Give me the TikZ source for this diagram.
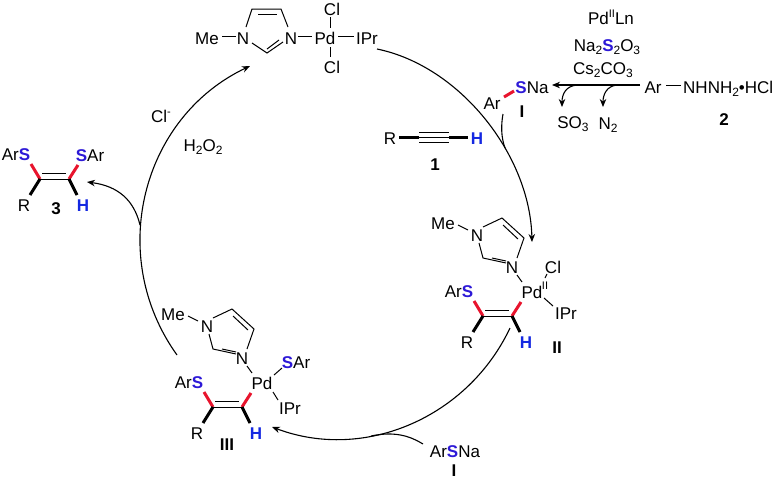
\documentclass[tikz,border=0pt]{standalone}
\usepackage{fontspec}
\setmainfont{Liberation Sans}
\usetikzlibrary{arrows.meta}
\definecolor{sblue}{RGB}{45,25,215}
\definecolor{hblue}{RGB}{20,40,225}
\definecolor{bred}{RGB}{232,20,45}
\newcommand{\Sb}{{\bfseries\color{sblue}S}}
\newcommand{\Hb}{{\bfseries\color{hblue}H}}
\newcommand{\sbs}[1]{\raisebox{-3.5pt}{\fontsize{12}{12}\selectfont #1}}
\newcommand{\sps}[1]{\raisebox{6.5pt}{\fontsize{11}{11}\selectfont #1}}
\tikzset{
  atom/.style={inner sep=0pt,text height=12pt,text depth=0pt,font=\fontsize{17}{18}\selectfont},
  num/.style={atom,font=\fontsize{17}{18}\selectfont\bfseries},
  bond/.style={line width=1pt},
  dbl/.style={line width=1pt},
  wedgeb/.style={line width=3pt},
  redb/.style={line width=3pt,draw=bred},
  flow/.style={line width=1.1pt,-{Stealth[length=8pt,width=6.5pt]}},
  plain/.style={line width=1.1pt}
}
% vinyl fragment with its ArS, R and H substituents, numbers as in III
\newcommand{\vinyl}[1]{
  \coordinate (#1c1) at (213,407);
  \coordinate (#1c2) at (242,407);
  \coordinate (#1i1) at (215,401);
  \coordinate (#1i2) at (239,401);
  \coordinate (#1s) at (204,392);
  \coordinate (#1p) at (251,393);
  \coordinate (#1r) at (203,423);
  \coordinate (#1h) at (250,423);
  \node[atom] (#1ArS) at (189,382) {Ar\Sb};
  \node[atom] (#1R) at (197,433) {R};
  \node[atom] (#1H) at (256,433) {\Hb};
  \draw[dbl] (#1c1) -- (#1c2) (#1i1) -- (#1i2);
  \draw[redb] (#1s) -- (#1c1);
  \draw[redb] (#1p) -- (#1c2);
  \draw[wedgeb] (#1c1) -- (#1r);
  \draw[wedgeb] (#1c2) -- (#1h);
}
% methylimidazole bound to Pd, numbers as in III
\newcommand{\imid}[1]{
  \node[atom] (#1Me) at (173,314) {Me};
  \node[atom] (#1Na) at (207,326) {N};
  \node[atom] (#1Nb) at (242,358) {N};
  \node[atom] (#1Pd) at (262,383) {Pd};
  \coordinate (#1a) at (232,309);
  \coordinate (#1b) at (254,329);
  \coordinate (#1c) at (213,349);
  \draw[bond] (188,316) -- (198,321);
  \draw[bond] (213,318) -- (#1a) -- (#1b) -- (247,349);
  \draw[bond] (233,316) -- (248,330);
  \draw[bond] (209,334) -- (#1c) -- (236,354);
  \draw[bond] (222,349) -- (236,352);
  \draw[bond] (247,366) -- (252,373);
}
\begin{document}
\begin{tikzpicture}[x=1pt,y=-1pt]
\useasboundingbox (0,0) rectangle (777,480);
% top complex
\node[atom] (tMe) at (207,38) {Me};
\node[atom] (tNa) at (243,38) {N};
\node[atom] (tNb) at (291,38) {N};
\node[atom] (tPd) at (325,38) {Pd};
\node[atom] (tIPr) at (367,38) {IPr};
\node[atom] (tClu) at (332,9) {Cl};
\node[atom] (tCld) at (332,67) {Cl};
\coordinate (ta) at (252,9);
\coordinate (tb) at (281,9);
\coordinate (tc) at (267,53);
\draw[bond] (222,36) -- (236,36);
\draw[bond] (246,27) -- (ta) -- (tb) -- (288,27);
\draw[bond] (258,14) -- (277,14);
\draw[bond] (252,43) -- (tc) -- (283,42);
\draw[bond] (267,49) -- (279,40);
\draw[bond] (298,36) -- (312,36);
\draw[bond] (338,36) -- (354,36);
\draw[bond] (330,17) -- (330,28);
\draw[bond] (330,47) -- (330,57);
% reagents
\node[atom] (pdl) at (611,18) {Pd\sps{II}Ln};
\node[atom] (na) at (607,45) {Na\sbs{2}\Sb\sbs{2}O\sbs{3}};
\node[atom] (cs) at (603,68) {Cs\sbs{2}CO\sbs{3}};
\node[atom] (ar2) at (653,87) {Ar};
\node[atom,anchor=west] (hyd) at (683,87) {NHNH\sbs{2}•HCl};
\node[num] (n2) at (724,119) {2};
\node[atom] (so3) at (573,122) {SO\sbs{3}};
\node[atom] (n2g) at (608,123) {N\sbs{2}};
\node[atom] (sna) at (532,87) {\Sb Na};
\node[atom] (ar1) at (492,103) {Ar};
\node[num] (one1) at (522,111) {I};
\coordinate (tip) at (552,85);
\coordinate (st) at (640,85);
\draw[bond] (666,85) -- (681,85);
\draw[flow] (st) -- (tip);
\draw[redb] (504,97) -- (514,91);
\coordinate (b1) at (577,85);
\coordinate (b2) at (617,85);
\coordinate (e1) at (562,107);
\coordinate (e2) at (603,107);
\draw[flow] (b1) .. controls (566,86) and (562,94) .. (e1);
\draw[flow] (b2) .. controls (607,86) and (603,94) .. (e2);
% alkyne
\node[atom] (aR) at (390,138) {R};
\node[atom] (aH) at (477,138) {\Hb};
\node[num] (a1) at (435,164) {1};
\coordinate (y1) at (419,137);
\coordinate (y2) at (449,137);
\draw[wedgeb] (399,137) -- (y1);
\draw[wedgeb] (y2) -- (468,137);
\draw[bond] (y1) -- (y2) (419,132) -- (449,132) (419,142) -- (449,142);
% reagents on the cycle
\node[atom] (cl) at (161,116) {Cl\sps{-}};
\node[atom] (h2o2) at (203,145) {H\sbs{2}O\sbs{2}};
% product 3
\begin{scope}[shift={(-173,-228)}]
\vinyl{p}
\end{scope}
\node[atom] (pS) at (90,155) {\Sb Ar};
\node[num] (p3) at (56,208) {3};
% II
\begin{scope}[shift={(270,-91)}]
\vinyl{v}
\imid{v}
\end{scope}
\node[atom] (vCl) at (553,267) {Cl};
\node[atom] (vIPr) at (566,313) {IPr};
\node[font=\fontsize{11}{12}\selectfont,inner sep=0pt] (vii) at (545,286) {II};
\node[num] (vnum) at (557,347) {II};
\draw[bond] (545,278) -- (547,274);
\draw[bond] (544,298) -- (553,306);
% III
\vinyl{w}
\imid{w}
\node[atom] (wS) at (296,362) {\Sb Ar};
\node[atom] (wIPr) at (290,408) {IPr};
\node[num] (wnum) at (227,444) {III};
\draw[bond] (274,375) -- (282,368);
\draw[bond] (273,392) -- (278,400);
% bottom ArSNa
\node[atom] (bS) at (455,451) {Ar\Sb Na};
\node[num] (bI) at (454,470) {I};
% cycle
\coordinate (c1) at (377,49);
\coordinate (c2) at (532,242);
\coordinate (c3) at (510,328);
\coordinate (c4) at (272,427);
\coordinate (c5) at (177,355);
\coordinate (c6) at (250,66);
\coordinate (j1) at (140,225);
\coordinate (t3) at (87,182);
\coordinate (j2) at (371,436);
\coordinate (i1) at (423,444);
\coordinate (i2) at (503,114);
\coordinate (j3) at (505,148);
\draw[flow] (c1) .. controls (460,66) and (530,155) .. (c2);
\draw[flow] (c3) .. controls (468,417) and (365,462) .. (c4);
\draw[flow] (c5) .. controls (106,256) and (141.5,117.5) .. (c6);
\draw[flow] (j1) .. controls (134,200) and (118,186) .. (t3);
\draw[plain] (i1) .. controls (410,436) and (395,431) .. (j2);
\draw[plain] (i2) .. controls (501,125) and (501,137) .. (j3);
\end{tikzpicture}
\end{document}
